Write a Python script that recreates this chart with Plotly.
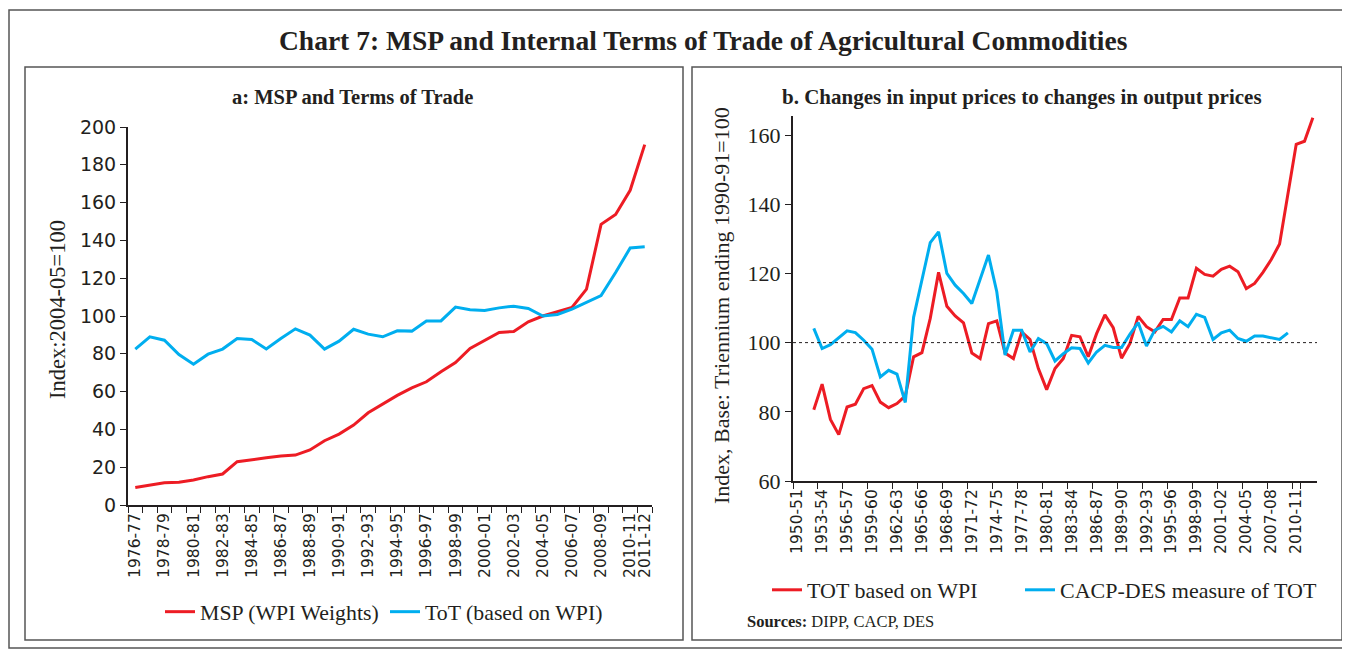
import plotly.graph_objects as go

# panel a: 1976-77 .. 2011-12
years_a = [f"{y}-{str(y + 1)[-2:]}" for y in range(1976, 2012)]
msp_wpi = [9.3, 10.6, 11.8, 12.0, 13.2, 15.0, 16.4, 22.9, 24.1, 25.0, 25.9, 26.4,
           29.1, 34.0, 37.5, 42.3, 48.8, 53.4, 58.0, 62.0, 65.2, 70.5, 75.4, 82.8,
           87.2, 91.3, 91.8, 96.9, 100.0, 102.2, 104.5, 114.2, 148.5, 153.7, 166.5, 190.7]
tot_wpi_a = [82.5, 89.0, 87.2, 79.6, 74.5, 79.8, 82.5, 88.1, 87.6, 82.6, 88.1, 93.2,
             89.9, 82.5, 86.7, 93.0, 90.4, 89.0, 92.2, 92.0, 97.4, 97.4, 104.7, 103.3,
             102.9, 104.3, 105.2, 104.0, 100.0, 100.8, 103.6, 107.1, 110.8, 123.0, 136.0, 136.6]

# panel b: 1950-51 .. 2012-13
years_b = [f"{y}-{str(y + 1)[-2:]}" for y in range(1950, 2013)]
tot_wpi_b = [80.6, 88.0, 77.8, 73.4, 81.4, 82.2, 86.7, 87.6, 82.8, 81.2, 82.4, 84.6,
             95.9, 97.1, 107.0, 120.3, 110.5, 107.7, 105.7, 97.0, 95.4, 105.5, 106.3, 97.0,
             95.4, 103.1, 100.9, 92.5, 86.4, 92.5, 95.4, 102.1, 101.7, 95.9, 102.6, 108.0,
             104.3, 95.5, 99.7, 107.6, 104.6, 103.1, 106.7, 106.7, 112.9, 112.9, 121.5, 119.7,
             119.2, 121.2, 122.1, 120.5, 115.6, 117.1, 120.3, 124.0, 128.5, 143.0, 157.3, 158.2,
             165.0]
cacp_des = [104.1, 98.3, 99.4, 101.4, 103.4, 102.9, 100.7, 98.1, 90.1, 92.0, 90.9, 82.7,
            107.3, 118.1, 128.9, 132.0, 120.0, 116.6, 114.2, 111.3, 118.5, 125.3, 114.7, 96.4,
            103.6, 103.6, 97.3, 101.2, 99.7, 94.7, 96.8, 98.5, 98.3, 94.1, 97.3, 99.2,
            98.6, 98.6, 102.4, 105.8, 99.0, 103.6, 104.7, 103.1, 106.3, 104.6, 108.2, 107.3,
            100.9, 102.8, 103.6, 101.2, 100.4, 101.9, 101.9, 101.4, 100.9, 102.8]

ticktext_a = [y if (i % 2 == 0 or i == len(years_a) - 1) else "" for i, y in enumerate(years_a)]

RED = "#ed1c24"
BLUE = "#00aeef"
INK = "#231f20"
# the page body keeps its default 8px margin, so the figure is drawn 8px in
OFF = 8
W, H = 1350 - OFF, 653 - OFF


def px(x):
    return (x - OFF) / W


def py(y):
    return 1 - (y - OFF) / H


fig = go.Figure()
fig.add_trace(go.Scatter(x=years_a, y=msp_wpi, mode='lines', name='MSP (WPI Weights)',
                         line=dict(color=RED, width=3), xaxis='x', yaxis='y', legend='legend'))
fig.add_trace(go.Scatter(x=years_a, y=tot_wpi_a, mode='lines', name='ToT (based on WPI)',
                         line=dict(color=BLUE, width=3), xaxis='x', yaxis='y', legend='legend'))
fig.add_trace(go.Scatter(x=years_b[2:2 + len(tot_wpi_b)], y=tot_wpi_b, mode='lines',
                         name='TOT based on WPI',
                         line=dict(color=RED, width=3), xaxis='x2', yaxis='y2', legend='legend2'))
fig.add_trace(go.Scatter(x=years_b[2:2 + len(cacp_des)], y=cacp_des, mode='lines',
                         name='CACP-DES measure of TOT',
                         line=dict(color=BLUE, width=3), xaxis='x2', yaxis='y2', legend='legend3'))

axis_common = dict(showline=True, linecolor=INK, linewidth=2, showgrid=False, zeroline=False,
                   ticks='outside', ticklen=6, tickwidth=1, tickcolor=INK, fixedrange=True,
                   automargin=False)
tick_sans = dict(family='DejaVu Sans', size=15.5, color=INK)
legend_common = dict(orientation='h', xanchor='left', yanchor='middle',
                     bgcolor='rgba(0,0,0,0)', borderwidth=0, itemwidth=30)

fig.update_layout(
    template='none',
    width=W, height=H,
    margin=dict(t=0, l=0, r=0, b=0, pad=0, autoexpand=False),
    paper_bgcolor='white', plot_bgcolor='white',
    xaxis=dict(axis_common, domain=[px(128), px(652)], anchor='y', type='category',
               categoryorder='array', categoryarray=years_a, range=[-0.5, len(years_a) - 0.5],
               tickmode='array', tickvals=years_a, ticktext=ticktext_a, tickson='boundaries',
               tickangle=-90, tickfont=tick_sans),
    yaxis=dict(axis_common, domain=[py(505), py(127)], anchor='x', range=[0, 200], dtick=20,
               tickfont=dict(family='DejaVu Sans', size=19, color=INK)),
    xaxis2=dict(axis_common, domain=[px(793), px(1317)], anchor='y2', type='category',
                categoryorder='array', categoryarray=years_b, range=[-0.5, len(years_b) - 0.5],
                tickmode='array', tickvals=years_b[::3], tickson='boundaries',
                tickangle=-90, tickfont=tick_sans),
    yaxis2=dict(axis_common, domain=[py(481), py(116)], anchor='x2', range=[60, 165.5],
                tickvals=[60, 80, 100, 120, 140, 160],
                tickfont=dict(family='Liberation Serif', size=22, color=INK)),
    legend=dict(legend_common, x=px(160), y=py(612),
                font=dict(family='Liberation Serif', size=21.8, color=INK),
                entrywidth=180, entrywidthmode='pixels'),
    legend2=dict(legend_common, x=px(767), y=py(590),
                 font=dict(family='Liberation Serif', size=22, color=INK)),
    legend3=dict(legend_common, x=px(1020), y=py(590),
                 font=dict(family='Liberation Serif', size=22, color=INK)),
    showlegend=True,
)

# frames
frame = dict(type='rect', xref='paper', yref='paper', line=dict(color='#555555', width=1.5),
             fillcolor='rgba(0,0,0,0)', layer='below')
fig.add_shape(frame, x0=px(9), x1=px(1345), y0=py(648), y1=py(10))
fig.add_shape(frame, x0=px(25), x1=px(683), y0=py(640), y1=py(67))
fig.add_shape(frame, x0=px(692), x1=px(1342), y0=py(640), y1=py(67))

# base line at 100
fig.add_shape(type='line', xref='x2 domain', yref='y2', x0=0, x1=1, y0=100, y1=100,
              line=dict(color=INK, width=1, dash='dot'))

serif = 'Liberation Serif'
note = dict(xref='paper', yref='paper', showarrow=False, xanchor='center', yanchor='middle')
fig.add_annotation(note, x=px(703), y=py(40),
                   text='<b>Chart 7: MSP and Internal Terms of Trade of Agricultural Commodities</b>',
                   font=dict(family=serif, size=27.5, color=INK))
fig.add_annotation(note, x=px(352), y=py(97), text='<b>a: MSP and Terms of Trade</b>',
                   font=dict(family=serif, size=20.5, color=INK))
fig.add_annotation(note, x=px(1022), y=py(97),
                   text='<b>b. Changes in input prices to changes in output prices</b>',
                   font=dict(family=serif, size=21, color=INK))
fig.add_annotation(note, x=px(57), y=py(310), text='Index:2004-05=100', textangle=-90,
                   font=dict(family=serif, size=22.5, color=INK))
fig.add_annotation(note, x=px(721), y=py(305), text='Index, Base: Triennium ending 1990-91=100',
                   textangle=-90, font=dict(family=serif, size=22, color=INK))
fig.add_annotation(note, x=px(745), y=py(621), xanchor='left',
                   text='<b>Sources:</b> DIPP, CACP, DES',
                   font=dict(family=serif, size=16.5, color=INK))

fig.write_html("out.html")
